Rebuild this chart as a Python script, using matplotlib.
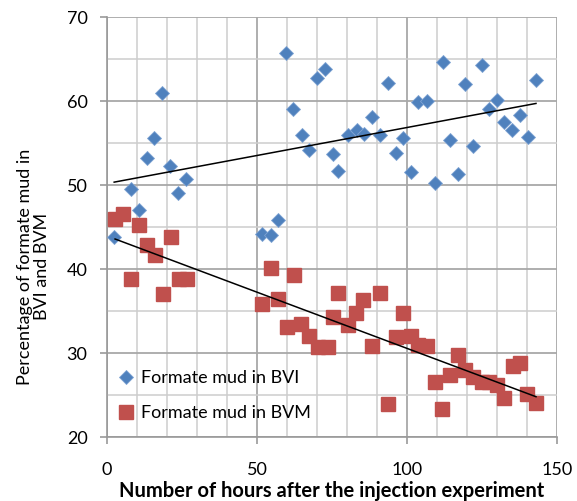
import numpy as np
import matplotlib
matplotlib.use("agg")
import matplotlib.pyplot as plt
from matplotlib.ticker import MultipleLocator

# BVI readings (hours, percent)
bvi_hours = [2.4, 7.9, 10.7, 13.2, 15.8, 18.4, 21.0, 23.8, 26.3,
             51.8, 54.6, 57.1, 59.6, 62.1, 64.9, 67.4, 69.9, 72.7, 75.2, 77.1,
             80.4, 83.2, 85.8, 88.4, 91.0, 93.6, 96.2, 98.8, 101.3, 103.8, 106.6,
             109.3, 111.9, 114.3, 116.9, 119.3, 122.1, 124.9, 127.3, 129.9,
             132.3, 135.1, 137.7, 140.4, 143.0]
bvi_pct = [43.8, 49.5, 47.0, 53.2, 55.6, 60.9, 52.3, 49.1, 50.7,
           44.2, 44.1, 45.8, 65.7, 59.1, 56.0, 54.2, 62.8, 63.8, 53.7, 51.7,
           56.0, 56.6, 56.1, 58.1, 56.0, 62.2, 53.8, 55.6, 51.5, 59.9, 60.0,
           50.3, 64.6, 55.4, 51.3, 62.0, 54.6, 64.3, 59.1, 60.1,
           57.5, 56.5, 58.3, 55.7, 62.5]

# BVM readings (hours, percent)
bvm_hours = [2.7, 5.4, 8.0, 10.8, 13.2, 16.0, 18.6, 21.2, 24.0, 26.8,
             51.8, 54.7, 57.1, 59.9, 62.4, 64.7, 67.4, 70.4, 73.6, 75.4, 77.1,
             80.4, 83.0, 85.4, 88.4, 91.0, 93.6, 96.2, 98.6, 101.3, 103.8, 106.6,
             109.3, 111.8, 114.3, 116.9, 119.3, 122.1, 124.9, 127.4, 129.9,
             132.3, 135.2, 137.7, 140.1, 143.0]
bvm_pct = [46.0, 46.6, 38.8, 45.2, 42.9, 41.7, 37.0, 43.8, 38.8, 38.8,
           35.8, 40.1, 36.4, 33.1, 39.3, 33.5, 32.0, 30.7, 30.7, 34.3, 37.1,
           33.3, 34.8, 36.3, 30.8, 37.1, 23.9, 31.9, 34.8, 32.0, 31.0, 30.8,
           26.6, 23.3, 27.4, 29.8, 28.0, 27.2, 26.6, 26.6, 26.2,
           24.7, 28.5, 28.8, 25.1, 24.0]

blue = "#4F81BD"
red = "#C0504D"
font = "Lato"

plt.rcParams["font.family"] = [font, "DejaVu Sans"]

fig = plt.figure(figsize=(5.77, 5.01), dpi=100)
ax = fig.add_axes([0.1854, 0.1277, 0.7799, 0.8383])

ax.plot(bvi_hours, bvi_pct, linestyle="none", marker="D", ms=7.6,
        color=blue, mec="#7ea3d3", mew=0.6, label="Formate mud in BVI", zorder=3)
ax.plot(bvm_hours, bvm_pct, linestyle="none", marker="s", ms=10.5,
        color=red, mec=red, label="Formate mud in BVM", zorder=3)

# linear trend lines
for xs, ys in [(bvi_hours, bvi_pct), (bvm_hours, bvm_pct)]:
    k, b = np.polyfit(xs, ys, 1)
    xx = np.array([min(xs), max(xs)])
    ax.plot(xx, k * xx + b, color="black", lw=1.1, zorder=4)

ax.set_xlim(0, 150)
ax.set_ylim(20, 70)
ax.xaxis.set_major_locator(MultipleLocator(50))
ax.xaxis.set_minor_locator(MultipleLocator(10))
ax.yaxis.set_major_locator(MultipleLocator(10))
ax.yaxis.set_minor_locator(MultipleLocator(5))

ax.grid(which="major", color="#a8a8a8", lw=1.3, zorder=0)
ax.grid(which="minor", color="#cdcdcd", lw=1.1, zorder=0)
ax.set_axisbelow(True)

for s in ["top", "right"]:
    ax.spines[s].set_visible(False)
for s in ["left", "bottom"]:
    ax.spines[s].set_color("#999999")
    ax.spines[s].set_linewidth(1.2)

ax.tick_params(axis="x", which="major", direction="out", length=5, width=1.2,
               color="#999999", pad=13, labelsize=13)
ax.tick_params(axis="y", which="major", direction="out", length=5, width=1.2,
               color="#999999", pad=9, labelsize=13)
ax.tick_params(which="minor", length=0)

ax.set_xlabel("Number of hours after the injection experiment",
              fontsize=14.5, fontweight="bold", labelpad=2)
ax.set_ylabel("Percentage of formate mud in\nBVI and BVM", fontsize=13,
              linespacing=1.1)
ax.yaxis.set_label_coords(-0.127, 0.405)

ax.legend(loc="lower left", bbox_to_anchor=(-0.005, 0.012), frameon=False,
          fontsize=13, handletextpad=0.2, labelspacing=1.05, handlelength=1.2,
          borderaxespad=0.2)

fig.savefig("out.png", dpi=100)
